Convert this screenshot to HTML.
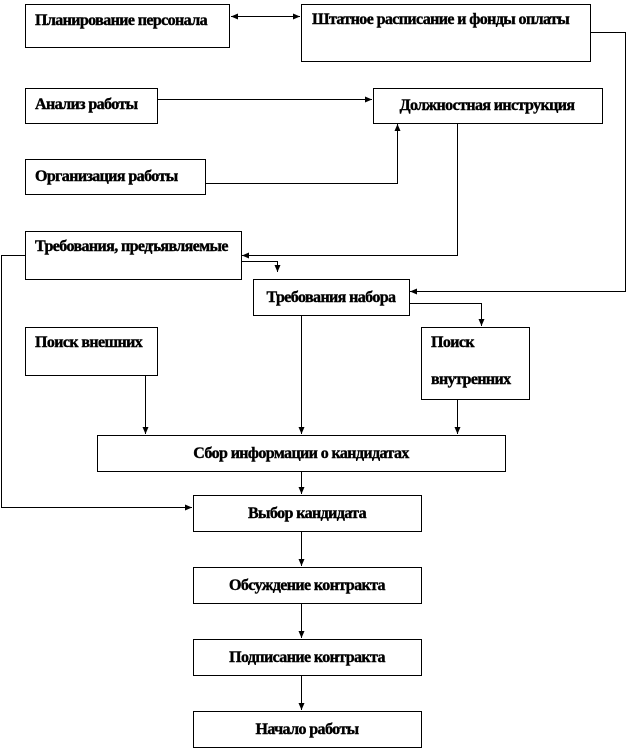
<!DOCTYPE html>
<html><head><meta charset="utf-8"><style>
body{margin:0;background:#fff}
svg text{font-family:"Liberation Serif",serif;font-weight:bold;font-size:16px;letter-spacing:-0.6px;fill:#000;stroke:#000;stroke-width:0.4}
</style></head><body>
<svg width="626" height="750" viewBox="0 0 626 750" xmlns="http://www.w3.org/2000/svg">
<defs><marker id="a" markerWidth="8" markerHeight="8" refX="7" refY="4" orient="auto" markerUnits="userSpaceOnUse"><path d="M0,1 L7,4 L0,7 z" fill="#000"/></marker>
<marker id="s" markerWidth="8" markerHeight="8" refX="0" refY="4" orient="auto" markerUnits="userSpaceOnUse"><path d="M7,1 L0,4 L7,7 z" fill="#000"/></marker></defs>
<g fill="none" stroke="#000" stroke-width="1">
<rect x="25.5" y="4.5" width="204" height="43"/>
<rect x="301.5" y="4.5" width="289" height="57"/>
<rect x="25.5" y="88.5" width="132" height="35"/>
<rect x="373.5" y="88.5" width="229" height="35"/>
<rect x="25.5" y="159.5" width="180" height="35"/>
<rect x="25.5" y="231.5" width="216" height="48"/>
<rect x="253.5" y="279.5" width="156" height="36"/>
<rect x="25.5" y="327.5" width="132" height="48"/>
<rect x="421.5" y="327.5" width="108" height="72"/>
<rect x="97.5" y="435.5" width="408" height="36"/>
<rect x="193.5" y="495.5" width="228" height="36"/>
<rect x="193.5" y="567.5" width="228" height="36"/>
<rect x="193.5" y="639.5" width="228" height="36"/>
<rect x="193.5" y="711.5" width="228" height="36"/>
<path d="M231,16.5 H300" marker-start="url(#s)" marker-end="url(#a)"/>
<path d="M590,32.5 H625.5 V291.5 H410" marker-end="url(#a)"/>
<path d="M157,99.5 H372" marker-end="url(#a)"/>
<path d="M205,183.5 H397.5 V124" marker-end="url(#a)"/>
<path d="M457.5,123 V255.5 H242" marker-end="url(#a)"/>
<path d="M25,255.5 H1.5 V507.5 H192" marker-end="url(#a)"/>
<path d="M241,261.5 H277.5 V272" marker-end="url(#a)"/>
<path d="M409,303.5 H481.5 V326" marker-end="url(#a)"/>
<path d="M301.5,315 V434" marker-end="url(#a)"/>
<path d="M145.5,375 V434" marker-end="url(#a)"/>
<path d="M457.5,399 V434" marker-end="url(#a)"/>
<path d="M301.5,471 V494" marker-end="url(#a)"/>
<path d="M301.5,531 V566" marker-end="url(#a)"/>
<path d="M301.5,603 V638" marker-end="url(#a)"/>
<path d="M301.5,675 V710" marker-end="url(#a)"/>
</g>
<text x="35" y="25">Планирование персонала</text>
<text x="312" y="24">Штатное расписание и фонды  оплаты</text>
<text x="35" y="109">Анализ работы</text>
<text x="487" y="110" text-anchor="middle">Должностная инструкция</text>
<text x="35" y="181">Организация работы</text>
<text x="35" y="251">Требования, предъявляемые</text>
<text x="331" y="302" text-anchor="middle">Требования набора</text>
<text x="35" y="347">Поиск внешних</text>
<text x="431" y="347">Поиск</text>
<text x="431" y="384">внутренних</text>
<text x="301" y="458" text-anchor="middle">Сбор информации о кандидатах</text>
<text x="307" y="518" text-anchor="middle">Выбор кандидата</text>
<text x="307" y="590" text-anchor="middle">Обсуждение контракта</text>
<text x="307" y="662" text-anchor="middle">Подписание контракта</text>
<text x="307" y="734" text-anchor="middle">Начало работы</text>
</svg>
</body></html>
